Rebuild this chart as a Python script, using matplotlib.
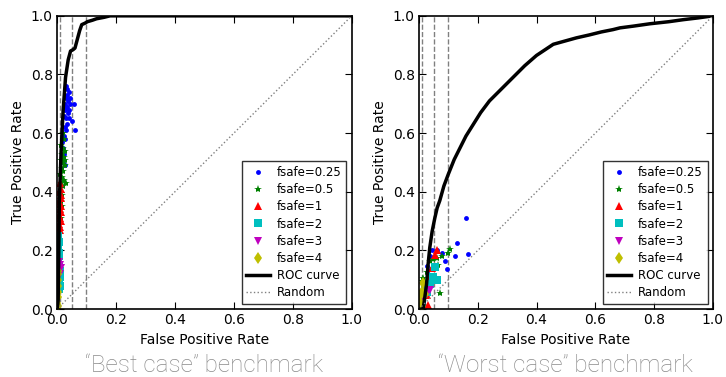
import matplotlib.pyplot as plt

# ROC curves (false positive rate, true positive rate)
best_fpr = [0.0, 0.002, 0.004, 0.008, 0.014, 0.021, 0.029, 0.038, 0.046, 0.055, 0.061,
            0.069, 0.077, 0.084, 0.095, 0.103, 0.12, 0.134, 0.16, 0.18, 0.25, 1.0]
best_tpr = [0.0, 0.01, 0.03, 0.37, 0.54, 0.68, 0.79, 0.85, 0.88, 0.885, 0.89,
            0.92, 0.95, 0.97, 0.975, 0.98, 0.985, 0.99, 0.995, 1.0, 1.0, 1.0]

worst_fpr = [0.0, 0.01, 0.015, 0.02, 0.026, 0.031, 0.037, 0.045, 0.054, 0.062, 0.071,
             0.085, 0.10, 0.12, 0.14, 0.16, 0.185, 0.21, 0.24, 0.28, 0.32, 0.36,
             0.40, 0.43, 0.457, 0.50, 0.536, 0.58, 0.62, 0.66, 0.684, 0.73, 0.786,
             0.85, 0.90, 0.95, 1.0]
worst_tpr = [0.0, 0.0, 0.004, 0.04, 0.085, 0.15, 0.21, 0.265, 0.31, 0.345, 0.37,
             0.42, 0.46, 0.51, 0.55, 0.59, 0.63, 0.67, 0.71, 0.75, 0.79, 0.83,
             0.865, 0.885, 0.903, 0.915, 0.925, 0.935, 0.945, 0.953, 0.959, 0.965, 0.973,
             0.98, 0.987, 0.993, 1.0]

fsafe_labels = ['fsafe=0.25', 'fsafe=0.5', 'fsafe=1', 'fsafe=2', 'fsafe=3', 'fsafe=4']
fsafe_styles = [('b', '.', 7), ('g', '*', 6), ('r', '^', 6), ('c', 's', 6), ('m', 'v', 6), ('y', 'd', 6)]
thresholds = [0.01, 0.05, 0.1]

# best case scatter points per fsafe
best_pts = [
    [(0.030, 0.76), (0.035, 0.75), (0.040, 0.74), (0.032, 0.72), (0.037, 0.71), (0.027, 0.70),
     (0.043, 0.70), (0.035, 0.69), (0.030, 0.69), (0.040, 0.68), (0.025, 0.66), (0.032, 0.65),
     (0.042, 0.65), (0.058, 0.70), (0.052, 0.64), (0.060, 0.61), (0.028, 0.62), (0.030, 0.61),
     (0.024, 0.59), (0.028, 0.58), (0.022, 0.50), (0.028, 0.49), (0.020, 0.55), (0.018, 0.57),
     (0.025, 0.53), (0.034, 0.73), (0.045, 0.72), (0.038, 0.67), (0.026, 0.68), (0.033, 0.63)],
    [(0.020, 0.60), (0.025, 0.58), (0.015, 0.56), (0.022, 0.55), (0.028, 0.54), (0.018, 0.53),
     (0.024, 0.52), (0.012, 0.51), (0.020, 0.50), (0.026, 0.49), (0.016, 0.48), (0.022, 0.47),
     (0.010, 0.46), (0.018, 0.45), (0.024, 0.44), (0.014, 0.43), (0.020, 0.42), (0.008, 0.40),
     (0.016, 0.39), (0.012, 0.37), (0.018, 0.35), (0.010, 0.33), (0.014, 0.31), (0.030, 0.43),
     (0.027, 0.51)],
    [(0.010, 0.43), (0.013, 0.41), (0.008, 0.40), (0.012, 0.39), (0.015, 0.38), (0.007, 0.37),
     (0.011, 0.36), (0.014, 0.35), (0.009, 0.34), (0.012, 0.33), (0.006, 0.32), (0.010, 0.31),
     (0.013, 0.30), (0.008, 0.29), (0.011, 0.28), (0.009, 0.27)],
    [(0.005, 0.25), (0.007, 0.23), (0.004, 0.21), (0.006, 0.19), (0.008, 0.18), (0.005, 0.17),
     (0.007, 0.15), (0.004, 0.14), (0.009, 0.13), (0.006, 0.12), (0.010, 0.11), (0.005, 0.10),
     (0.008, 0.09), (0.011, 0.08), (0.006, 0.07)],
    [(0.006, 0.16), (0.009, 0.15), (0.012, 0.14), (0.007, 0.13), (0.010, 0.12)],
    [(0.002, 0.13), (0.004, 0.12), (0.003, 0.10), (0.002, 0.08), (0.004, 0.06), (0.003, 0.04),
     (0.001, 0.02), (0.002, 0.01)],
]

worst_pts = [
    [(0.16, 0.31), (0.13, 0.227), (0.166, 0.187), (0.122, 0.18), (0.094, 0.136), (0.088, 0.164),
     (0.077, 0.193), (0.06, 0.20), (0.043, 0.20), (0.026, 0.147), (0.032, 0.135), (0.037, 0.18)],
    [(0.105, 0.204), (0.10, 0.19), (0.077, 0.18), (0.06, 0.175), (0.048, 0.17), (0.037, 0.165),
     (0.066, 0.15), (0.071, 0.056), (0.015, 0.105), (0.011, 0.095), (0.026, 0.125), (0.048, 0.14)],
    [(0.062, 0.20), (0.054, 0.185), (0.043, 0.14), (0.037, 0.11), (0.032, 0.09), (0.02, 0.07),
     (0.026, 0.048), (0.015, 0.025), (0.03, 0.015)],
    [(0.054, 0.145), (0.06, 0.10), (0.048, 0.11), (0.037, 0.085), (0.02, 0.07), (0.015, 0.05),
     (0.026, 0.06), (0.009, 0.025)],
    [(0.037, 0.066), (0.026, 0.05), (0.015, 0.04), (0.01, 0.02)],
    [(0.015, 0.09), (0.01, 0.06), (0.02, 0.05), (0.005, 0.025), (0.012, 0.01), (0.006, 0.05)],
]

titles = ['\u201cBest case\u201d benchmark', '\u201cWorst case\u201d benchmark']


def draw_panel(ax, fpr, tpr, pts):
    for t in thresholds:
        ax.axvline(t, color='gray', ls='--', lw=1)
    for (c, m, s), lab, p in zip(fsafe_styles, fsafe_labels, pts):
        xs = [q[0] for q in p]
        ys = [q[1] for q in p]
        ax.plot(xs, ys, ls='none', marker=m, color=c, markersize=s,
                markeredgewidth=0, label=lab)
    ax.plot(fpr, tpr, 'k-', lw=2.5, label='ROC curve')
    ax.plot([0, 1], [0, 1], ls=':', color='gray', lw=1, label='Random')
    ax.set_xlim(0, 1)
    ax.set_ylim(0, 1)
    ax.set_xticks([0, 0.2, 0.4, 0.6, 0.8, 1.0])
    ax.set_yticks([0, 0.2, 0.4, 0.6, 0.8, 1.0])
    ax.tick_params(direction='in', top=True, right=True, length=5, labelsize=10, pad=3)
    ax.set_xlabel('False Positive Rate', fontsize=10, labelpad=4)
    ax.set_ylabel('True Positive Rate', fontsize=10, labelpad=4)
    for sp in ax.spines.values():
        sp.set_linewidth(1.2)
    leg = ax.legend(loc='lower right', numpoints=1, fontsize=8.5, fancybox=False,
                    handlelength=2.0, handletextpad=0.6, labelspacing=0.35,
                    borderpad=0.4, borderaxespad=0.45)
    leg.get_frame().set_edgecolor('black')


fig = plt.figure(figsize=(7.26, 3.77), dpi=100)
ax1 = fig.add_axes([0.0785, 0.18, 0.406, 0.778])
ax2 = fig.add_axes([0.577, 0.18, 0.405, 0.778])

draw_panel(ax1, best_fpr, best_tpr, best_pts)
draw_panel(ax2, worst_fpr, worst_tpr, worst_pts)

for ax, title in zip([ax1, ax2], titles):
    cx = (ax.get_position().x0 + ax.get_position().x1) / 2
    fig.text(cx, 0.014, title, ha='center', va='baseline', fontsize=17.5,
             color='#8a8a8a', family='Roboto', fontweight='light')

fig.savefig('out.png', dpi=100)
